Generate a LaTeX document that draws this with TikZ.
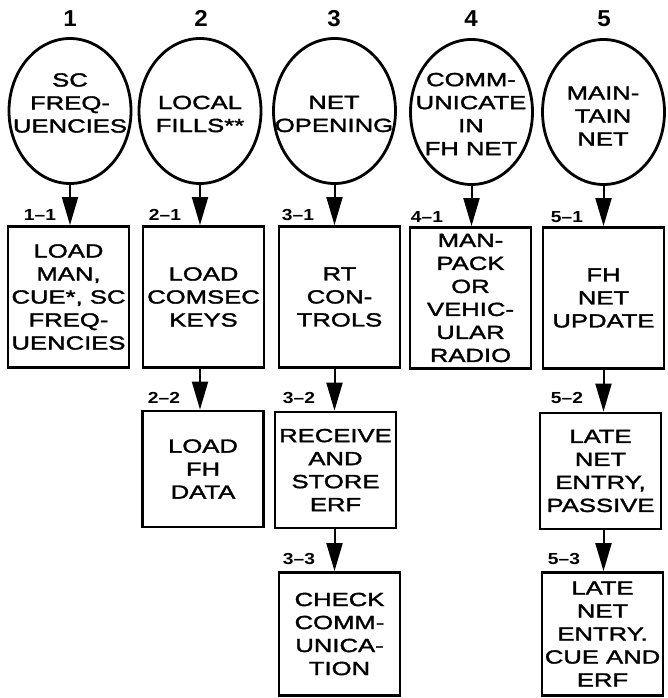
\documentclass[tikz,border=0pt]{standalone}
\usepackage{fontspec}
\setmainfont{Liberation Sans}[FakeStretch=1.35,FakeBold=1.8]
\newfontfamily\numfont{Liberation Sans Bold}[FakeStretch=1.05]
\newfontfamily\lblfont{Liberation Sans Bold}[FakeStretch=1.2]
\usetikzlibrary{shapes.geometric,arrows.meta}
\begin{document}
\begin{tikzpicture}[x=1pt,y=-1pt,
  proc/.style={ellipse, draw, line width=2.8pt, minimum width=122pt, minimum height=145pt, inner sep=0pt},
  box/.style={rectangle, draw, line width=2.8pt, minimum width=121pt, inner sep=0pt, align=center, font=\fontsize{19}{23}\selectfont},
  txt/.style={align=center, inner sep=0pt, font=\fontsize{19}{23}\selectfont},
  lbl/.style={font=\lblfont\fontsize{16}{16}\selectfont, inner sep=0pt},
  num/.style={font=\numfont\fontsize{23}{23}\selectfont, inner sep=0pt},
  arr/.style={line width=2pt, -{Triangle[width=16pt,length=28pt]}}
]
\useasboundingbox (0,0) rectangle (668,698);
% top numbers
\node[num] (n1) at (70,18.5) {1};
\node[num] (n2) at (201,18.5) {2};
\node[num] (n3) at (334,18.5) {3};
\node[num] (n4) at (471,18.5) {4};
\node[num] (n5) at (604,18.5) {5};
% ellipses
\node[proc] (e1) at (70,111) {};
\node[proc] (e2) at (200,111) {};
\node[proc] (e3) at (334.5,111) {};
\node[proc] (e4) at (471.5,112) {};
\node[proc] (e5) at (603.5,112) {};
\node[txt] (t1) at (70,103) {SC\\FREQ-\\UENCIES};
\node[txt] (t2) at (200,114) {LOCAL\\FILLS**};
\node[txt] (t3) at (334,114) {NET\\OPENING};
\node[txt] (t4) at (471,114) {COMM-\\UNICATE\\IN\\FH NET};
\node[txt] (t5) at (603,116) {MAIN-\\TAIN\\NET};
% row 1 boxes
\node[box, minimum height=141pt] (b11) at (68.5,297) {LOAD\\MAN,\\CUE*, SC\\FREQ-\\UENCIES};
\node[box, minimum height=141pt] (b21) at (203.5,297) {LOAD\\COMSEC\\KEYS};
\node[box, minimum height=141pt] (b31) at (339.5,297) {RT\\CON-\\TROLS};
\node[box, minimum height=141pt] (b41) at (470.5,298) {MAN-\\PACK\\OR\\VEHIC-\\ULAR\\RADIO};
\node[box, minimum height=141pt] (b51) at (603.5,298) {FH\\NET\\UPDATE};
% row 2 boxes
\node[box, minimum height=116pt] (b22) at (203,469) {LOAD\\FH\\DATA};
\node[box, minimum height=116pt] (b32) at (335.5,470) {RECEIVE\\AND\\STORE\\ERF};
\node[box, minimum height=116pt] (b52) at (600.5,471) {LATE\\NET\\ENTRY,\\PASSIVE};
% row 3 boxes
\node[box, minimum height=123pt] (b33) at (339.5,634) {CHECK\\COMM-\\UNICA-\\TION};
\node[box, minimum height=123pt] (b53) at (602.5,634) {LATE\\NET\\ENTRY.\\CUE AND\\ERF};
% labels
\node[lbl] (l11) at (40,215) {1–1};
\node[lbl] (l21) at (165,215) {2–1};
\node[lbl] (l31) at (298,215) {3–1};
\node[lbl] (l41) at (427,217) {4–1};
\node[lbl] (l51) at (567,217) {5–1};
\node[lbl] (l22) at (164,398) {2–2};
\node[lbl] (l32) at (299,398) {3–2};
\node[lbl] (l52) at (567,398) {5–2};
\node[lbl] (l33) at (299,559) {3–3};
\node[lbl] (l53) at (564,559) {5–3};
% arrows
\draw[arr] (e1.south) -- (e1.south |- b11.north);
\draw[arr] (e2.south) -- (e2.south |- b21.north);
\draw[arr] (e3.south) -- (e3.south |- b31.north);
\draw[arr] (e4.south) -- (e4.south |- b41.north);
\draw[arr] (e5.south) -- (e5.south |- b51.north);
\draw[arr] (e2.south |- b21.south) -- (e2.south |- b22.north);
\draw[arr] (e3.south |- b31.south) -- (e3.south |- b32.north);
\draw[arr] (e3.south |- b32.south) -- (e3.south |- b33.north);
\draw[arr] (e5.south |- b51.south) -- (e5.south |- b52.north);
\draw[arr] (e5.south |- b52.south) -- (e5.south |- b53.north);
\end{tikzpicture}
\end{document}
